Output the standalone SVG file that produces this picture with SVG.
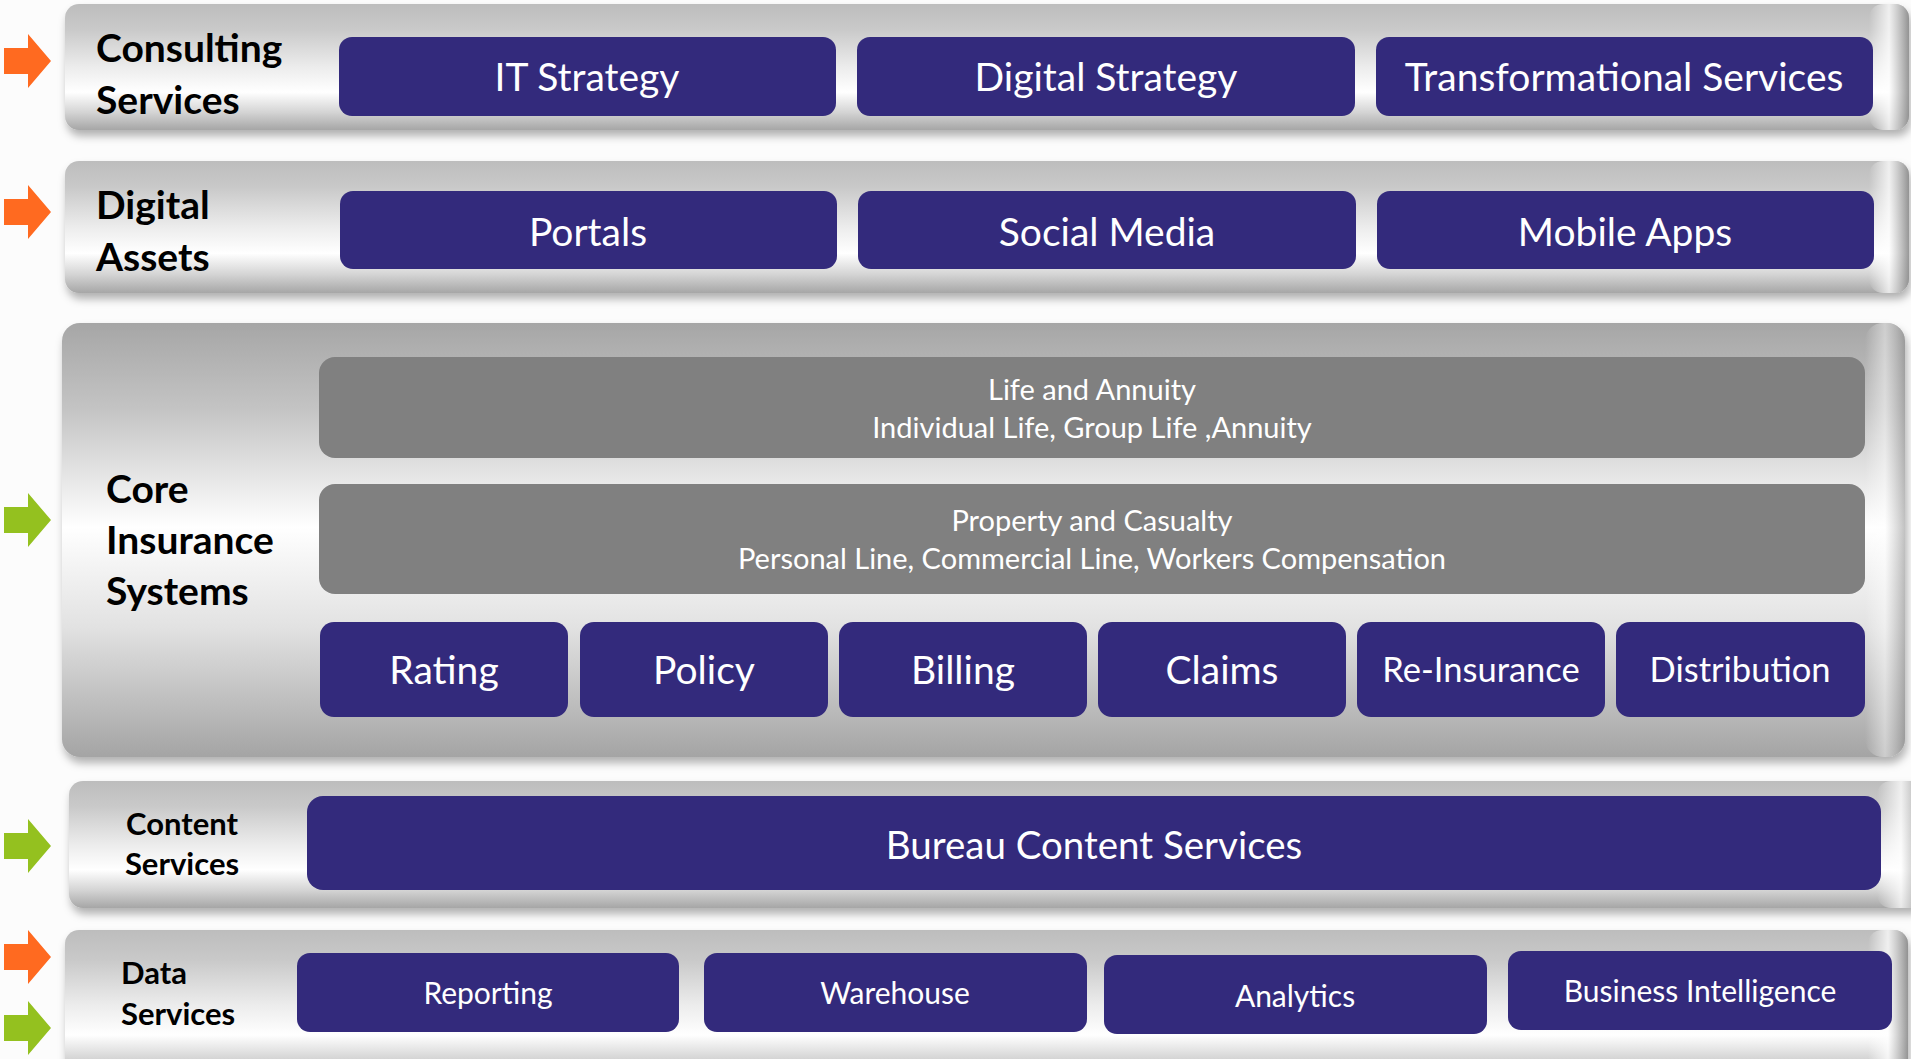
<svg xmlns="http://www.w3.org/2000/svg" width="1911" height="1059" viewBox="0 0 1911 1059">
<defs>
<linearGradient id="bandG" x1="0" y1="0" x2="0" y2="1">
<stop offset="0" stop-color="#bdbdbd"/>
<stop offset="0.2" stop-color="#c9c9c9"/>
<stop offset="0.5" stop-color="#ececec"/>
<stop offset="0.7" stop-color="#ffffff"/>
<stop offset="0.86" stop-color="#d4d4d4"/>
<stop offset="1" stop-color="#a6a6a6"/>
</linearGradient>
<linearGradient id="coreG" x1="0" y1="0" x2="0" y2="1">
<stop offset="0" stop-color="#a6a6a6"/>
<stop offset="0.2" stop-color="#c4c4c4"/>
<stop offset="0.47" stop-color="#ffffff"/>
<stop offset="0.7" stop-color="#e2e2e2"/>
<stop offset="1" stop-color="#a4a4a4"/>
</linearGradient>
<linearGradient id="endG" x1="0" y1="0" x2="1" y2="0">
<stop offset="0" stop-color="#ffffff" stop-opacity="0"/>
<stop offset="0.5" stop-color="#ffffff" stop-opacity="0.75"/>
<stop offset="1" stop-color="#8c8c8c" stop-opacity="0.9"/>
</linearGradient>
<filter id="sh" x="-2%" y="-10%" width="104%" height="130%">
<feDropShadow dx="2" dy="6" stdDeviation="4" flood-color="#000" flood-opacity="0.3"/>
</filter>
<path id="arr" d="M0,-13 H24 V-27 L47,0 L24,27 V13 H0 Z"/>
</defs>
<style>
.navy{fill:#332a7c}
.gray{fill:#808080}
.lbl{font-family:Lato,"Open Sans",sans-serif;font-weight:bold;fill:#000}
.bt{font-family:Lato,"Open Sans",sans-serif;fill:#fff;text-anchor:middle}
.orange{fill:#ff6a20}
.green{fill:#94c11f}
</style>
<rect width="1911" height="1059" fill="#fcfcfc"/>

<g id="band-consulting">
<rect x="65" y="4" width="1844" height="126" rx="14" fill="url(#bandG)" filter="url(#sh)"/>
<rect x="1869" y="4" width="40" height="126" rx="14" fill="url(#endG)"/>
<text class="lbl" font-size="39"><tspan x="96" y="62">Consulting</tspan><tspan x="96" y="114">Services</tspan></text>
</g>
<g id="it-strategy"><rect class="navy" x="339" y="37" width="497" height="79" rx="13"/><text class="bt" x="587" y="91" font-size="39">IT Strategy</text></g>
<g id="digital-strategy"><rect class="navy" x="857" y="37" width="498" height="79" rx="13"/><text class="bt" x="1106" y="91" font-size="39">Digital Strategy</text></g>
<g id="transformational-services"><rect class="navy" x="1376" y="37" width="497" height="79" rx="13"/><text class="bt" x="1624" y="91" font-size="39">Transformational Services</text></g>

<g id="band-digital">
<rect x="65" y="161" width="1844" height="132" rx="14" fill="url(#bandG)" filter="url(#sh)"/>
<rect x="1869" y="161" width="40" height="132" rx="14" fill="url(#endG)"/>
<text class="lbl" font-size="39"><tspan x="96" y="219">Digital</tspan><tspan x="96" y="271">Assets</tspan></text>
</g>
<g id="portals"><rect class="navy" x="340" y="191" width="497" height="78" rx="13"/><text class="bt" x="588" y="246" font-size="39">Portals</text></g>
<g id="social-media"><rect class="navy" x="858" y="191" width="498" height="78" rx="13"/><text class="bt" x="1107" y="246" font-size="39">Social Media</text></g>
<g id="mobile-apps"><rect class="navy" x="1377" y="191" width="497" height="78" rx="13"/><text class="bt" x="1625" y="246" font-size="39">Mobile Apps</text></g>

<g id="band-core">
<rect x="62" y="323" width="1843" height="434" rx="18" fill="url(#coreG)" filter="url(#sh)"/>
<rect x="1865" y="323" width="40" height="434" rx="18" fill="url(#endG)" opacity="0.6"/>
<text class="lbl" font-size="39"><tspan x="106" y="503">Core</tspan><tspan x="106" y="554">Insurance</tspan><tspan x="106" y="605">Systems</tspan></text>
</g>
<g id="life-annuity"><rect class="gray" x="319" y="357" width="1546" height="101" rx="16"/><text class="bt" font-size="29" fill="#f4f4f4"><tspan x="1092" y="400">Life and Annuity</tspan><tspan x="1092" y="438">Individual Life, Group Life ,Annuity</tspan></text></g>
<g id="property-casualty"><rect class="gray" x="319" y="484" width="1546" height="110" rx="16"/><text class="bt" font-size="29"><tspan x="1092" y="531">Property and Casualty</tspan><tspan x="1092" y="569">Personal Line, Commercial Line, Workers Compensation</tspan></text></g>
<g id="rating"><rect class="navy" x="320" y="622" width="248" height="95" rx="14"/><text class="bt" x="444" y="684" font-size="39">Rating</text></g>
<g id="policy"><rect class="navy" x="580" y="622" width="248" height="95" rx="14"/><text class="bt" x="704" y="684" font-size="39">Policy</text></g>
<g id="billing"><rect class="navy" x="839" y="622" width="248" height="95" rx="14"/><text class="bt" x="963" y="684" font-size="39">Billing</text></g>
<g id="claims"><rect class="navy" x="1098" y="622" width="248" height="95" rx="14"/><text class="bt" x="1222" y="684" font-size="39">Claims</text></g>
<g id="re-insurance"><rect class="navy" x="1357" y="622" width="248" height="95" rx="14"/><text class="bt" x="1481" y="682" font-size="34.5">Re-Insurance</text></g>
<g id="distribution"><rect class="navy" x="1616" y="622" width="249" height="95" rx="14"/><text class="bt" x="1740" y="682" font-size="34.5">Distribution</text></g>

<g id="band-content">
<rect x="69" y="781" width="1856" height="127" rx="14" fill="url(#bandG)" filter="url(#sh)"/>
<rect x="1877" y="781" width="48" height="127" rx="14" fill="url(#endG)"/>
<text class="lbl" font-size="31" text-anchor="middle"><tspan x="182" y="835">Content</tspan><tspan x="182" y="875">Services</tspan></text>
</g>
<g id="bureau-content-services"><rect class="navy" x="307" y="796" width="1574" height="94" rx="16"/><text class="bt" x="1094" y="859" font-size="38.5">Bureau Content Services</text></g>

<g id="band-data">
<rect x="65" y="930" width="1843" height="150" rx="14" fill="url(#bandG)" filter="url(#sh)"/>
<rect x="1868" y="930" width="40" height="150" rx="14" fill="url(#endG)"/>
<text class="lbl" font-size="31"><tspan x="121" y="984">Data</tspan><tspan x="121" y="1025">Services</tspan></text>
</g>
<g id="reporting"><rect class="navy" x="297" y="953" width="382" height="79" rx="13"/><text class="bt" x="488" y="1004" font-size="30">Reporting</text></g>
<g id="warehouse"><rect class="navy" x="704" y="953" width="383" height="79" rx="13"/><text class="bt" x="895" y="1004" font-size="30">Warehouse</text></g>
<g id="analytics"><rect class="navy" x="1104" y="955" width="383" height="79" rx="13"/><text class="bt" x="1295" y="1007" font-size="30">Analytics</text></g>
<g id="business-intelligence"><rect class="navy" x="1508" y="951" width="384" height="79" rx="13"/><text class="bt" x="1700" y="1002" font-size="30">Business Intelligence</text></g>

<g id="connectors">
<use href="#arr" class="orange" x="4" y="61"/>
<use href="#arr" class="orange" x="4" y="212"/>
<use href="#arr" class="green" x="4" y="520"/>
<use href="#arr" class="green" x="4" y="846"/>
<use href="#arr" class="orange" x="4" y="957"/>
<use href="#arr" class="green" x="4" y="1028"/>
</g>
</svg>
